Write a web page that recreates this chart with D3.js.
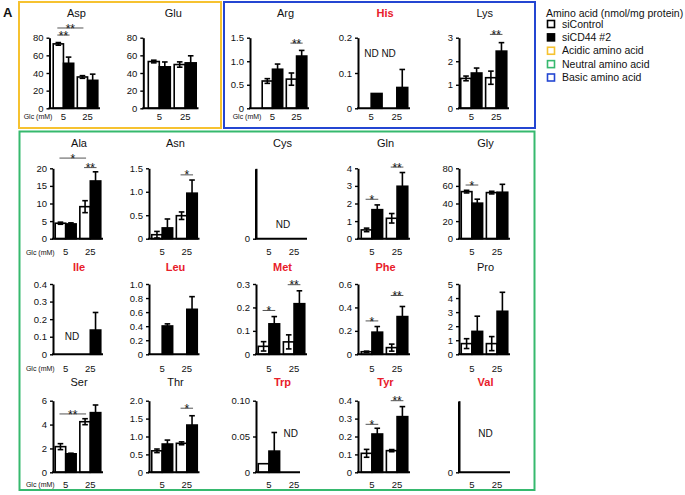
<!DOCTYPE html>
<html><head><meta charset="utf-8">
<script src="https://cdn.jsdelivr.net/npm/d3@7"></script>
<style>body{margin:0;background:#fff} svg{display:block} text{font-family:"Liberation Sans",Arial,sans-serif;fill:#111}</style>
</head><body>
<svg id="c" width="685" height="495"></svg>
<script>
// ---------------- DATA ----------------
const aminoAcids = ["Asp","Glu","Arg","His","Lys","Ala","Asn","Cys","Gln","Gly","Ile","Leu","Met","Phe","Pro","Ser","Thr","Trp","Tyr","Val"];
const redTitles = ["His","Ile","Leu","Met","Phe","Trp","Tyr","Val"];
const glucose = ["5","25"];
// null = ND (not detected)
const ctrl5     = [73, 53, 0.58, null, 1.27, 4.4, 0.085, null, 0.5, 53.5, null, null, 0.034, 0.022, 0.76, 2.15, 0.6, 0.012, 0.106, null];
const ctrl5Err  = [1.5, 1.5, 0.05, 0, 0.1, 0.3, 0.07, 0, 0.1, 1.5, 0, 0, 0.02, 0.005, 0.35, 0.25, 0.05, 0, 0.022, 0];
const cd5       = [51, 47, 0.83, 0.042, 1.5, 4.2, 0.23, null, 1.65, 40.4, null, 0.403, 0.13, 0.189, 1.63, 1.55, 0.79, 0.0296, 0.214, null];
const cd5Err    = [7, 5.5, 0.11, 0, 0.21, 0.3, 0.19, 0, 0.27, 4.5, 0, 0.03, 0.031, 0.048, 1.08, 0.05, 0.11, 0.026, 0.032, 0];
const ctrl25    = [35.5, 49.6, 0.62, null, 1.3, 9.1, 0.49, null, 1.16, 52.4, null, null, 0.053, 0.057, 0.76, 4.24, 0.81, null, 0.121, null];
const ctrl25Err = [1.5, 3, 0.13, 0, 0.28, 1.7, 0.08, 0, 0.27, 1.5, 0, 0, 0.03, 0.03, 0.5, 0.25, 0.04, 0, 0.006, 0];
const cd25      = [31.7, 51.5, 1.11, 0.059, 2.43, 16.4, 0.97, null, 2.98, 52.8, 0.138, 0.64, 0.216, 0.322, 3.06, 5.0, 1.32, null, 0.311, null];
const cd25Err   = [7, 8, 0.12, 0.051, 0.36, 2.6, 0.28, 0, 0.78, 9, 0.1, 0.18, 0.055, 0.086, 1.35, 0.64, 0.26, 0, 0.056, 0];
const tickLabels = [
  ["0","20","40","60","80"], ["0","20","40","60","80"], ["0","0.5","1.0","1.5"], ["0","0.1","0.2"], ["0","1","2","3"],
  ["0","5","10","15","20"], ["0","0.5","1.0","1.5"], ["0"], ["0","1","2","3","4"], ["0","20","40","60","80"],
  ["0","0.1","0.2","0.3","0.4"], ["0","0.2","0.4","0.6","0.8","1.0"], ["0","0.1","0.2","0.3"], ["0","0.2","0.4","0.6"], ["0","1","2","3","4","5"],
  ["0","2","4","6"], ["0","0.5","1.0","1.5","2.0"], ["0","0.05","0.10"], ["0","0.1","0.2","0.3","0.4"], ["0"]
];
// [amino acid, bar a, bar b, bracket level (data units), label]; bars: 0=siControl 5,1=siCD44 5,2=siControl 25,3=siCD44 25
const sigMarks = [
  ["Asp",0,1,83,"**"], ["Asp",0,2,91,"**"], ["Arg",2,3,1.385,"**"], ["Lys",2,3,3.14,"**"],
  ["Ala",0,2,22.9,"*"], ["Ala",2,3,20.2,"**"], ["Asn",2,3,1.36,"*"], ["Gln",0,1,2.24,"*"], ["Gln",2,3,4.07,"**"], ["Gly",0,1,61,"*"],
  ["Met",0,1,0.187,"*"], ["Met",2,3,0.297,"**"], ["Phe",0,1,0.285,"*"], ["Phe",2,3,0.502,"**"],
  ["Ser",0,2,4.89,"**"], ["Thr",2,3,1.79,"*"], ["Tyr",0,1,0.268,"*"], ["Tyr",2,3,0.4,"**"]
];
const ndNotes = [["His","ND ND"],["Cys","ND"],["Ile","ND"],["Trp","ND"],["Val","ND"]];
const legendTitle = "Amino acid (nmol/mg protein)";
const legendItems = ["siControl","siCD44 #2","Acidic amino acid","Neutral amino acid","Basic amino acid"];

// ---------------- LAYOUT ----------------
const COL = {yellow:"#F6C230", green:"#36B96E", blue:"#2446D2", red:"#E8202A"};
const svg = d3.select("#c");
const rows = [
  {top:37.7, bottom:108.3, title:17,    label:119.5},
  {top:168.3,bottom:238.7, title:147,   label:255.2},
  {top:284,  bottom:354.3, title:270.5, label:371.6},
  {top:400.7,bottom:472.3, title:385.6, label:487.6}
];
// [axis x, band start, band end]
const topRowX = [[49.5,52,99],[143.3,147,197.5],[250,261,308],[358,359,409],[459,459.5,508]];
const colX = [[53,54,102],[149,150.5,198.5],[256,257,306],[358,360,409],[459,460,509]];
const ndPos = {His:[0.42,0.78], Cys:[0.53,0.21], Ile:[0.375,0.25], Trp:[0.69,0.55], Val:[0.52,0.55]};
const endOverride = {Trp:300};

// boxes
svg.append("rect").attr("x",19).attr("y",2).attr("width",202).attr("height",126)
  .attr("fill","none").attr("stroke",COL.yellow).attr("stroke-width",2);
svg.append("rect").attr("x",224).attr("y",2).attr("width",311).attr("height",126)
  .attr("fill","none").attr("stroke",COL.blue).attr("stroke-width",2);
svg.append("rect").attr("x",19.5).attr("y",131.5).attr("width",515).attr("height",358.5)
  .attr("fill","none").attr("stroke",COL.green).attr("stroke-width",2);
svg.append("text").attr("x",3).attr("y",17).attr("font-size",13).attr("font-weight","bold").text("A");

aminoAcids.forEach((aa, i) => {
  const r = i < 5 ? 0 : 1 + Math.floor((i-5)/5);
  const c = i < 5 ? i : (i-5) % 5;
  const [ax, b0, b1] = i < 5 ? topRowX[c] : colX[c];
  const R = rows[r];
  const labels = tickLabels[i];
  const vals = labels.map(Number);
  const maxT = d3.max(vals) || 1;
  const y = d3.scaleLinear().domain([0, maxT]).range([R.bottom, R.top]);
  const gx = d3.scaleBand().domain(glucose).range([b0, b1]).paddingInner(0.15).paddingOuter(0.05);
  const sx = d3.scaleBand().domain([0,1]).range([0, gx.bandwidth()]);
  const g = svg.append("g");

  const bars = [
    {gl:"5", s:0, v:ctrl5[i], e:ctrl5Err[i]},
    {gl:"5", s:1, v:cd5[i], e:cd5Err[i]},
    {gl:"25", s:0, v:ctrl25[i], e:ctrl25Err[i]},
    {gl:"25", s:1, v:cd25[i], e:cd25Err[i]}
  ];
  const cx = b => gx(b.gl) + sx(b.s) + sx.bandwidth()/2;
  const present = bars.filter(b => b.v !== null);
  g.selectAll("rect.bar").data(present).join("rect").attr("class","bar")
    .attr("x", b => gx(b.gl) + sx(b.s)).attr("width", sx.bandwidth())
    .attr("y", b => y(b.v)).attr("height", b => R.bottom - y(b.v))
    .attr("fill", b => b.s === 0 ? "#fff" : "#000").attr("stroke","#000").attr("stroke-width",1.6);
  const withErr = present.filter(b => b.e > 0);
  withErr.forEach(b => {
    const x = cx(b), lo = y(b.v - b.e), hi = y(b.v + b.e);
    g.append("line").attr("x1",x).attr("x2",x).attr("y1",lo).attr("y2",hi).attr("stroke","#000").attr("stroke-width",1.6);
    [lo, hi].forEach(yy => g.append("line").attr("x1",x-2.8).attr("x2",x+2.8).attr("y1",yy).attr("y2",yy).attr("stroke","#000").attr("stroke-width",1.6));
  });

  // y axis
  const axis = d3.axisLeft(y).tickValues(vals).tickFormat((d,k) => labels[k]).tickSize(3).tickSizeOuter(0).tickPadding(3);
  const ag = g.append("g").attr("transform",`translate(${ax},0)`).call(axis);
  ag.select(".domain").attr("stroke","#000").attr("stroke-width",2);
  ag.selectAll(".tick line").attr("stroke","#000").attr("stroke-width",1.4);
  ag.selectAll(".tick text").attr("font-size",9.5).attr("font-family","Liberation Sans, Arial, sans-serif").attr("fill","#111");
  if (vals.length === 1) {
    g.append("line").attr("x1",ax).attr("x2",ax).attr("y1",R.top+1).attr("y2",R.bottom).attr("stroke","#000").attr("stroke-width",2);
  }
  // baseline
  const xe = endOverride[aa] || b1 + 1;
  g.append("line").attr("x1",ax-1).attr("x2",xe).attr("y1",R.bottom).attr("y2",R.bottom).attr("stroke","#000").attr("stroke-width",2);

  // title
  g.append("text").attr("x",(b0+b1)/2+1).attr("y",R.title).attr("text-anchor","middle")
    .attr("font-size",11).attr("font-weight", redTitles.includes(aa) ? "bold" : "normal")
    .style("fill", redTitles.includes(aa) ? COL.red : "#111").text(aa);
  // x labels
  glucose.forEach(gl => g.append("text").attr("x", gx(gl)+gx.bandwidth()/2).attr("y",R.label)
    .attr("text-anchor","middle").attr("font-size",9.5).text(gl));
  if (c === 0 || aa === "Arg") {
    g.append("text").attr("x", gx("5")+gx.bandwidth()/2 - 11).attr("y",R.label-0.5)
      .attr("text-anchor","end").attr("font-size",7).text("Glc (mM)");
  }
  // significance
  sigMarks.filter(s => s[0] === aa).forEach(([_, a, bb, lv, lab]) => {
    const xa = cx(bars[a]) - 1, xb = cx(bars[bb]) + 1, yy = y(lv);
    g.append("line").attr("x1",xa).attr("x2",xb).attr("y1",yy).attr("y2",yy).attr("stroke","#555").attr("stroke-width",1);
    g.append("text").attr("x",(xa+xb)/2).attr("y",yy+4.6).attr("text-anchor","middle").attr("font-size",12).text(lab);
  });
  // ND notes
  ndNotes.filter(n => n[0] === aa).forEach(([_, t]) => {
    const [fx, fy] = ndPos[aa];
    g.append("text").attr("x", b0 + fx*(b1-b0)).attr("y", R.bottom - fy*(R.bottom-R.top) + 3.6)
      .attr("text-anchor","middle").attr("font-size",10).text(t);
  });
});

// legend
svg.append("text").attr("x",546).attr("y",16.8).attr("font-size",10.5).text(legendTitle);
const legendStroke = ["#000","#000",COL.yellow,COL.green,COL.blue];
const legendFill = ["#fff","#000","#fff","#fff","#fff"];
const ly = d3.scalePoint().domain(legendItems).range([24, 77.5]);
legendItems.forEach((t, k) => {
  svg.append("rect").attr("x",547.5).attr("y",ly(t)-3.5).attr("width",7).attr("height",7)
    .attr("fill",legendFill[k]).attr("stroke",legendStroke[k]).attr("stroke-width",1.6);
  svg.append("text").attr("x",562).attr("y",ly(t)+3.7).attr("font-size",10.5).text(t);
});
</script>
</body></html>
